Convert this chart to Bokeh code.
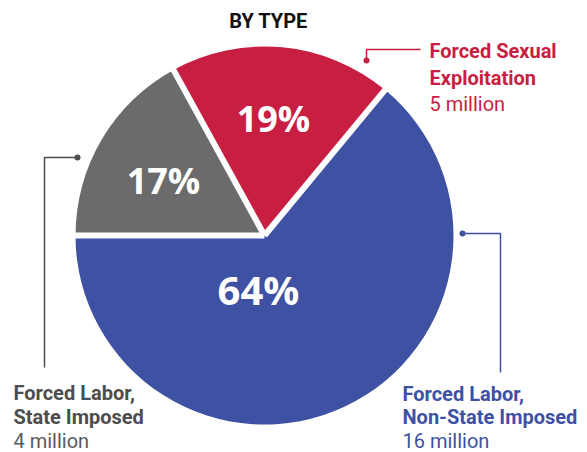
import math
from bokeh.plotting import figure
from bokeh.models import Range1d, ColumnDataSource
from bokeh.core.properties import value
from bokeh.embed import file_html
from bokeh.resources import INLINE

# ---------------- data ----------------
title = "BY TYPE"
categories = ["Forced Labor,\nNon-State Imposed", "Forced Sexual\nExploitation", "Forced Labor,\nState Imposed"]
shares = [64, 19, 17]                     # percent
pct_labels = ["64%", "19%", "17%"]
millions = [16, 5, 4]
million_labels = [" 16 million", "5 million", "4 million"]
colors = ["#3F51A2", "#C81E42", "#6B6B6B"]
text_colors = ["#3F51A2", "#C81E42", "#4D4D4D"]
sub_colors = ["#3F51A2", "#C81E42", "#5A5A5A"]

# ---------------- layout (reference pixel space, y down) ----------------
W, H = 587, 452
def Y(sy):                 # convert reference screen y to data y
    return H - sy

CX, CY, R = 264, Y(235), 189
START = math.pi            # first slice starts at 9 o'clock, goes counter-clockwise

p = figure(width=W, height=H, output_backend="svg", toolbar_location=None,
           x_range=Range1d(0, W), y_range=Range1d(0, H),
           min_border=0, outline_line_color=None)
p.axis.visible = False
p.grid.visible = False
p.background_fill_color = "white"
p.border_fill_color = "white"

# wedges
total = sum(shares)
starts, ends = [], []
a = START
for s in shares:
    starts.append(a)
    a += s / total * 2 * math.pi
    ends.append(a)
src = ColumnDataSource(dict(start=starts, end=ends, color=colors, cat=categories))
p.wedge(x=CX, y=CY, radius=R, start_angle="start", end_angle="end",
        fill_color="color", line_color=None, source=src)

# white separators along slice boundaries
sx0, sy0, sx1, sy1 = [], [], [], []
for ang in starts:
    sx0.append(CX); sy0.append(CY)
    sx1.append(CX + (R + 4) * math.cos(ang)); sy1.append(CY + (R + 4) * math.sin(ang))
p.segment(x0=sx0, y0=sy0, x1=sx1, y1=sy1, line_color="white", line_width=6)

# percent labels inside slices (cap centers)
pct_pos = [(258, 289), (273, 118), (163, 180)]
pct_sizes = ["40px", "36px", "36px"]
for lab, (px, py), fs in zip(pct_labels, pct_pos, pct_sizes):
    p.text(x=[px], y=[Y(py)], text=[lab], text_color="white", text_font=value("Open Sans"),
           text_font_style="bold", text_font_size=fs, text_align="center",
           text_baseline="middle")

# title
p.text(x=[268], y=[Y(20.5)], text=[title], text_color="#111111", text_font=value("Roboto"),
       text_font_style="bold", text_font_size="20px", text_align="center",
       text_baseline="middle")

# leader lines: (dot, corner, end) in reference pixels
leaders = [
    [(462, 233), (500, 233), (500, 372)],
    [(366, 60), (366, 49), (420, 49)],
    [(77, 157), (44, 157), (44, 367)],
]
for pts, c in zip(leaders, text_colors):
    p.line(x=[q[0] for q in pts], y=[Y(q[1]) for q in pts], line_color=c, line_width=1.5)
    p.scatter(x=[pts[0][0]], y=[Y(pts[0][1])], size=6, fill_color=c, line_color=None)

# category labels (x, cap-centre of the three lines)
label_pos = [(402, 393.5, 416.5, 440), (429, 50.5, 77.5, 103.5), (13, 392, 416.5, 440.5)]
for cat, ml, tc, sc, (lx, b1, b2, b3) in zip(categories, million_labels, text_colors, sub_colors, label_pos):
    l1, l2 = cat.split("\n")
    p.text(x=[lx, lx], y=[Y(b1), Y(b2)], text=[l1, l2], text_color=tc,
           text_font=value("Roboto"), text_font_style="bold", text_font_size="20px",
           text_align="left", text_baseline="middle")
    p.text(x=[lx], y=[Y(b3)], text=[ml], text_color=sc,
           text_font=value("Roboto"), text_font_style="normal", text_font_size="20px",
           text_align="left", text_baseline="middle")

open("out.html", "w").write(file_html(p, INLINE))
